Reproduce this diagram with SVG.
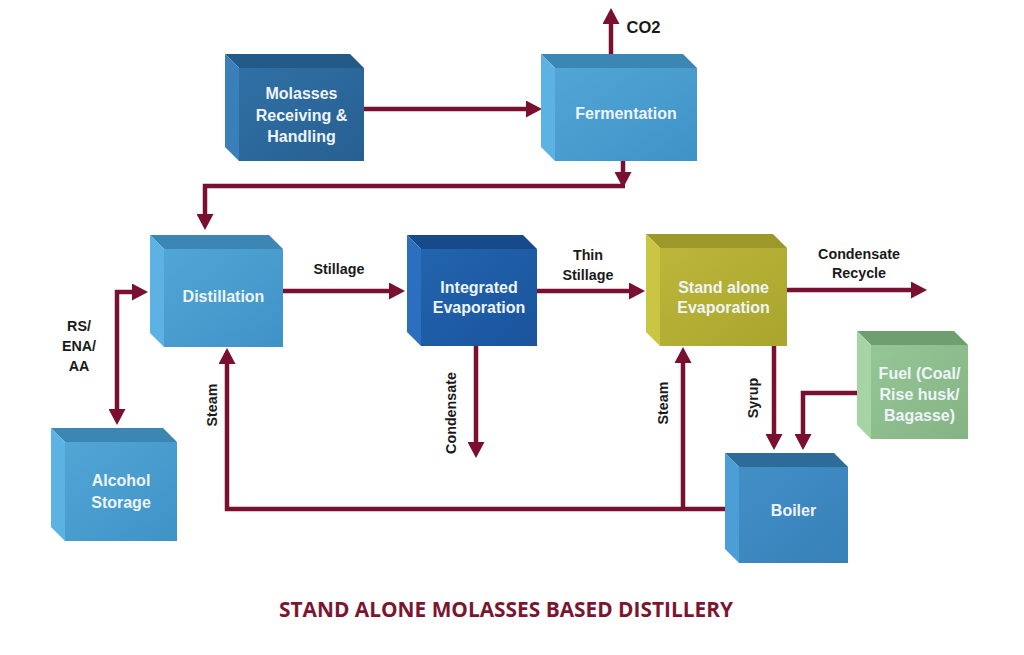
<svg xmlns="http://www.w3.org/2000/svg" width="1024" height="655" viewBox="0 0 1024 655">
  <defs>
    <style>
      .lbl { font-family: "Liberation Sans", Arial, sans-serif; font-weight: bold; font-size: 14.3px; fill: #1a1a1a; text-anchor: middle; }
      .ntxt { font-family: "Liberation Sans", Arial, sans-serif; font-weight: bold; font-size: 16px; fill: #eef4fa; text-anchor: middle; }
      .title { font-family: "Open Sans", "Liberation Sans", sans-serif; font-weight: bold; font-size: 21.5px; fill: #7b1631; text-anchor: middle; }
      .conn { fill: none; stroke: #7a1030; stroke-width: 4.5; stroke-linejoin: miter; }
    </style>
    <marker id="ah" viewBox="0 0 16 17" refX="8" refY="8.5" markerWidth="16" markerHeight="17" markerUnits="userSpaceOnUse" orient="auto-start-reverse">
      <path d="M0,0 L16,8.5 L0,17 z" fill="#7a1030"/>
    </marker>
    <linearGradient id="gLight" x1="0" y1="0" x2="1" y2="1">
      <stop offset="0" stop-color="#52a6d6"/>
      <stop offset="1" stop-color="#3f92c6"/>
    </linearGradient>
    <linearGradient id="gDark" x1="0" y1="0" x2="1" y2="1">
      <stop offset="0" stop-color="#3070a4"/>
      <stop offset="1" stop-color="#275f92"/>
    </linearGradient>
    <linearGradient id="gInt" x1="0" y1="0" x2="1" y2="1">
      <stop offset="0" stop-color="#2264ae"/>
      <stop offset="1" stop-color="#1a549c"/>
    </linearGradient>
    <linearGradient id="gOlive" x1="0" y1="0" x2="1" y2="1">
      <stop offset="0" stop-color="#bcb73a"/>
      <stop offset="1" stop-color="#a9a52d"/>
    </linearGradient>
    <linearGradient id="gGreen" x1="0" y1="0" x2="1" y2="1">
      <stop offset="0" stop-color="#96c695"/>
      <stop offset="1" stop-color="#84b484"/>
    </linearGradient>
    <linearGradient id="gBoiler" x1="0" y1="0" x2="1" y2="1">
      <stop offset="0" stop-color="#428fc6"/>
      <stop offset="1" stop-color="#3780b8"/>
    </linearGradient>
  </defs>
  <rect width="1024" height="655" fill="#ffffff"/>

  <g id="connectors">
    <path class="conn" d="M364,109 H534" marker-end="url(#ah)"/>
    <path class="conn" d="M611,54 V16" marker-end="url(#ah)"/>
    <path class="conn" d="M623,161 V180" marker-end="url(#ah)"/>
    <path class="conn" d="M625,186 H205 V222" marker-end="url(#ah)"/>
    <path class="conn" d="M283,291 H397" marker-end="url(#ah)"/>
    <path class="conn" d="M537,291 H637" marker-end="url(#ah)"/>
    <path class="conn" d="M787,290 H919" marker-end="url(#ah)"/>
    <path class="conn" d="M476,346 V450" marker-end="url(#ah)"/>
    <path class="conn" d="M140,292 H117 V417" marker-start="url(#ah)" marker-end="url(#ah)"/>
    <path class="conn" d="M730,509 H227 V356" marker-end="url(#ah)"/>
    <path class="conn" d="M683,509 V355" marker-end="url(#ah)"/>
    <path class="conn" d="M774,346 V442" marker-end="url(#ah)"/>
    <path class="conn" d="M871,393 H803 V442" marker-end="url(#ah)"/>
  </g>

  <g id="labels">
    <text class="lbl" x="643.5" y="33" style="font-size:16.5px">CO2</text>
    <text class="lbl" x="339" y="274">Stillage</text>
    <text class="lbl" x="588" y="260">Thin</text>
    <text class="lbl" x="588" y="280">Stillage</text>
    <text class="lbl" x="859" y="259">Condensate</text>
    <text class="lbl" x="859" y="278">Recycle</text>
    <text class="lbl" x="79" y="331">RS/</text>
    <text class="lbl" x="79" y="351">ENA/</text>
    <text class="lbl" x="79" y="371">AA</text>
    <text class="lbl" transform="translate(212,405) rotate(-90)" y="5">Steam</text>
    <text class="lbl" transform="translate(451,413) rotate(-90)" y="5">Condensate</text>
    <text class="lbl" transform="translate(663,403) rotate(-90)" y="5">Steam</text>
    <text class="lbl" transform="translate(753,398) rotate(-90)" y="5">Syrup</text>
  </g>

  <g id="molasses">
    <polygon points="225,54 350,54 364,68 239,68" fill="#245a88"/>
    <polygon points="225,54 239,68 239,161 225,147" fill="#3a7fba"/>
    <rect x="239" y="68" width="125" height="93" fill="url(#gDark)"/>
    <text class="ntxt" x="301.5" y="99">Molasses</text>
    <text class="ntxt" x="301.5" y="121">Receiving &amp;</text>
    <text class="ntxt" x="301.5" y="142">Handling</text>
  </g>

  <g id="fermentation">
    <polygon points="541,54 683,54 697,68 555,68" fill="#3c86b4"/>
    <polygon points="541,54 555,68 555,161 541,147" fill="#5cb2e2"/>
    <rect x="555" y="68" width="142" height="93" fill="url(#gLight)"/>
    <text class="ntxt" x="626" y="119">Fermentation</text>
  </g>

  <g id="distillation">
    <polygon points="150,235 269,235 283,249 164,249" fill="#3c86b4"/>
    <polygon points="150,235 164,249 164,347 150,333" fill="#5cb2e2"/>
    <rect x="164" y="249" width="119" height="98" fill="url(#gLight)"/>
    <text class="ntxt" x="223.5" y="302">Distillation</text>
  </g>

  <g id="alcohol-storage">
    <polygon points="51,428 163,428 177,442 65,442" fill="#3c86b4"/>
    <polygon points="51,428 65,442 65,541 51,527" fill="#5cb2e2"/>
    <rect x="65" y="442" width="112" height="99" fill="url(#gLight)"/>
    <text class="ntxt" x="121" y="486">Alcohol</text>
    <text class="ntxt" x="121" y="508">Storage</text>
  </g>

  <g id="integrated-evaporation">
    <polygon points="407,235 523,235 537,249 421,249" fill="#174a8a"/>
    <polygon points="407,235 421,249 421,346 407,332" fill="#2b6fbe"/>
    <rect x="421" y="249" width="116" height="97" fill="url(#gInt)"/>
    <text class="ntxt" x="479" y="293">Integrated</text>
    <text class="ntxt" x="479" y="313">Evaporation</text>
  </g>

  <g id="standalone-evaporation">
    <polygon points="646,234 773,234 787,248 660,248" fill="#9c982a"/>
    <polygon points="646,234 660,248 660,346 646,332" fill="#cac643"/>
    <rect x="660" y="248" width="127" height="98" fill="url(#gOlive)"/>
    <text class="ntxt" x="723.5" y="293">Stand alone</text>
    <text class="ntxt" x="723.5" y="313">Evaporation</text>
  </g>

  <g id="fuel">
    <polygon points="857,331 954,331 968,345 871,345" fill="#6f9e70"/>
    <polygon points="857,331 871,345 871,439 857,425" fill="#a6d4a4"/>
    <rect x="871" y="345" width="97" height="94" fill="url(#gGreen)"/>
    <text class="ntxt" x="919.5" y="379">Fuel (Coal/</text>
    <text class="ntxt" x="919.5" y="400">Rise husk/</text>
    <text class="ntxt" x="919.5" y="421">Bagasse)</text>
  </g>

  <g id="boiler">
    <polygon points="725,453 834,453 848,467 739,467" fill="#2d6c9a"/>
    <polygon points="725,453 739,467 739,563 725,549" fill="#4c9fd6"/>
    <rect x="739" y="467" width="109" height="96" fill="url(#gBoiler)"/>
    <text class="ntxt" x="793.5" y="516">Boiler</text>
  </g>

  <text class="title" x="506" y="617" textLength="454" lengthAdjust="spacingAndGlyphs">STAND ALONE MOLASSES BASED DISTILLERY</text>
</svg>
